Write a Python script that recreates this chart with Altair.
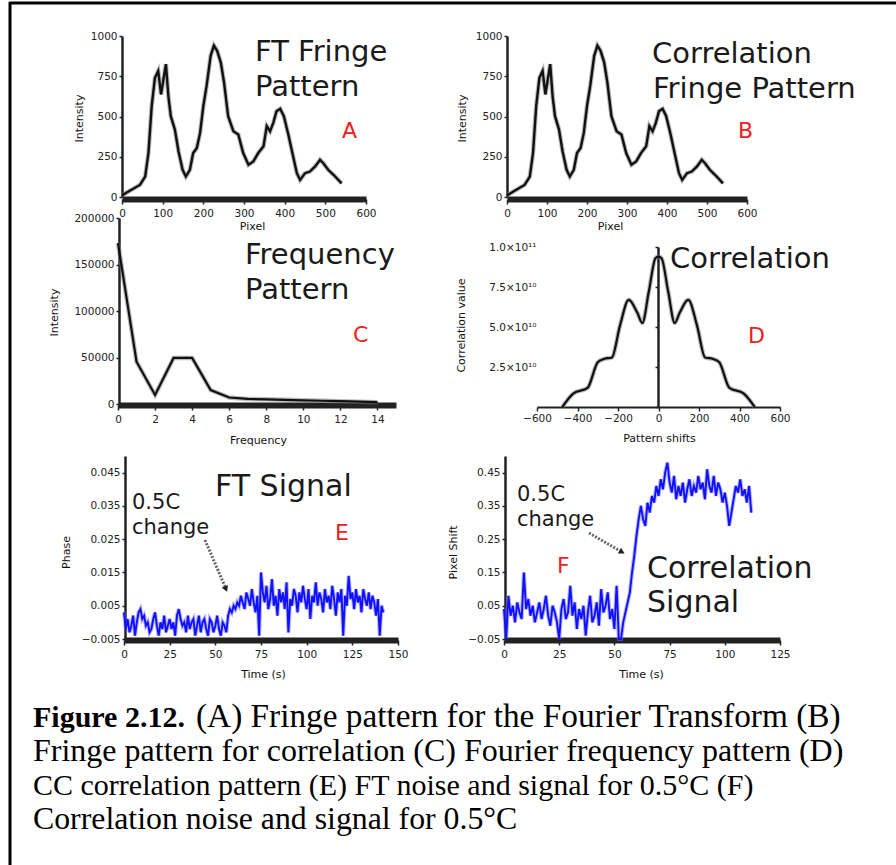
import altair as alt
import pandas as pd

W, H = 896, 865
FONT = "DejaVu Sans"
SERIF = "Liberation Serif"

# ---------------- data ----------------
# (A) FT fringe pattern
A_pixel = [0, 20, 44, 57, 65, 73, 81, 89, 96, 102, 108, 114, 120, 130, 139, 149, 157, 167, 175, 184,
           192, 200, 208, 218, 226, 234, 243, 251, 261, 274, 286, 298, 311, 323, 335, 348, 356, 364, 372, 380,
           389, 398, 409, 419, 430, 438, 450, 462, 475, 487, 495, 507, 520, 540]
A_intensity = [10, 40, 75, 127, 273, 565, 740, 783, 637, 731, 825, 627, 502, 419, 283, 169, 127, 169, 273, 304,
               398, 565, 690, 877, 940, 908, 835, 710, 502, 408, 388, 273, 200, 221, 273, 315, 440, 408, 460, 533,
               548, 502, 388, 273, 148, 106, 148, 158, 190, 231, 210, 169, 138, 85]
# (B) correlation fringe pattern (same fringe image)
B_pixel = list(A_pixel)
B_intensity = list(A_intensity)

# (C) Fourier frequency pattern
C_frequency = [0, 1, 2, 3, 4, 5, 6, 7, 8, 9, 10, 11, 12, 13, 14]
C_intensity = [173000, 45500, 9700, 49500, 49500, 15000, 7000, 5500, 5000, 4500, 4000, 3500, 3000, 2500, 2000]

# (D) cross-correlation pattern
D_shift = [-475, -420, -350, -300, -270, -230, -190, -147, -105, -80, -48, -15, 0,
           15, 48, 80, 105, 147, 190, 230, 270, 300, 350, 420, 475]
D_value = [0.0, 0.85e10, 1.2e10, 2.8e10, 3.0e10, 3.1e10, 5.1e10, 6.7e10, 5.9e10, 5.25e10, 7.2e10, 9.3e10, 9.4e10,
           9.3e10, 7.2e10, 5.25e10, 5.9e10, 6.7e10, 5.1e10, 3.1e10, 3.0e10, 2.8e10, 1.2e10, 0.85e10, 0.0]

# (E) FT phase signal, one reading per second, in units of 0.001
E_phase_milli = [3, -2, 1, -3, -1, 2, -4, 0, 3, 4, 1, 2, -1, 0, -3, -2, 1, 3, -1, -4,
                 0, -2, 2, -3, -1, 1, -2, 0, -4, 2, 4, 1, -1, 0, -3, 2, -2, 0, 1, -4,
                 -1, 2, -3, 0, 1, -2, -4, 1, 0, -3, -1, 2, -2, -4, 0, -1, -3,
                 2, 4, 3, 5, 4, 6,
                 5, 8, 6, 4, 9, 7, 5, 10, 6, 3, 8, -4, 15, 9, 6, 11, 4, 7, 13, 5,
                 8, 2, 10, 6, 9, 4, 12, -3, 7, 5, 10, 8, 3, 9, 6, 11, 7, 4, 10, 1,
                 8, 6, 12, 5, 9, 7, 3, 10, 6, 8, 4, 11, 7, 2, 9, 6, 10, -4, 8, 5,
                 14, 7, 9, 4, 10, 6, 8, 3, 10, 7, 5, 9, 4, 8, 6, 2, 7, -4, 5, 3]
E_phase = [v / 1000 for v in E_phase_milli]
E_time = list(range(len(E_phase)))

# (F) correlation pixel shift, one reading per second, in units of 0.01 px
F_shift_centi = [4, -5, 8, 2, 5, 0, 6, 3, 1, 15, 4, 7, 2, 5, 0, 3, 6, 1, 4, 8,
                 2, -1, 5, 3, 0, -5, 4, 7, 1, 3, 11, 2, 6, -2, 4, 1, 5, -4, 3, 8,
                 0, 2, 6, -1, 10, 3, 5, 9, 1, 4, -2, 11, -5,
                 -5, 0, 3, 6, 9, 15, 20, 26, 31, 35, 31, 29, 36, 33, 38, 36,
                 41, 38, 43, 40, 45, 48, 42, 39, 44, 37, 41, 38, 42, 36, 40, 43, 38, 41, 39, 44,
                 40, 42, 37, 46, 41, 39, 44, 38, 42, 40, 36, 39, 35, 29, 33, 37, 41, 39, 43, 38,
                 40, 36, 41, 33]
F_shift = [v / 100 for v in F_shift_centi]
F_time = list(range(len(F_shift)))

# tick values
A_xticks = [0, 100, 200, 300, 400, 500, 600]
A_yticks = [0, 250, 500, 750, 1000]
C_xticks = [0, 2, 4, 6, 8, 10, 12, 14]
C_yticks = [0, 50000, 100000, 150000, 200000]
D_xticks = [-600, -400, -200, 0, 200, 400, 600]
D_yticks = [0, 2.5e10, 5.0e10, 7.5e10, 1.0e11]
E_xticks = [0, 25, 50, 75, 100, 125, 150]
E_yticks = [-0.005, 0.005, 0.015, 0.025, 0.035, 0.045]
F_xticks = [0, 25, 50, 75, 100, 125]
F_yticks = [-0.05, 0.05, 0.15, 0.25, 0.35, 0.45]


# ---------------- helpers ----------------
def x_axis(ypos, ticks, title, tx, ty, fmt, bar=True):
    return alt.Axis(orient="bottom", offset=ypos - H, values=ticks, title=title, format=fmt,
                    titleX=tx, titleY=ty - ypos, titleAlign="center", titleBaseline="middle", titleAngle=0,
                    domainWidth=6 if bar else 2, tickSize=5 if bar else 4, labelPadding=4 if bar else 2)


def y_axis(xpos, ticks, title, tx, ty, fmt=None, label_pad=2, label_expr=None):
    kw = dict(orient="left", offset=-xpos, values=ticks, title=title,
              titleX=tx - xpos, titleY=ty, titleAlign="center", titleBaseline="middle", titleAngle=270,
              domainWidth=2.5, tickSize=3, labelPadding=label_pad)
    if fmt:
        kw["format"] = fmt
    if label_expr:
        kw["labelExpr"] = label_expr
    return alt.Axis(**kw)


def panel(xs, ys, xdom, xrng, ydom, yrng, xax, yax, fg, halo, fg_w, halo_w, interp="linear"):
    df = pd.DataFrame({"x": xs, "y": ys})
    base = alt.Chart(df).encode(
        x=alt.X("x:Q", scale=alt.Scale(domain=xdom, range=xrng, nice=False, zero=False), axis=xax),
        y=alt.Y("y:Q", scale=alt.Scale(domain=ydom, range=yrng, nice=False, zero=False), axis=yax),
    )
    return alt.layer(
        base.mark_line(color=halo, strokeWidth=halo_w, opacity=0.5, interpolate=interp),
        base.mark_line(color=fg, strokeWidth=fg_w, interpolate=interp),
    )


one = pd.DataFrame({"k": [0]})


def label(txt, x, y, size, color="#1a1a1a", font=FONT, weight="normal", align="left"):
    return alt.Chart(one).mark_text(text=txt, font=font, fontSize=size, fontWeight=weight, color=color,
                                    align=align, baseline="alphabetic").encode(x=alt.value(x), y=alt.value(y))


def arrow(x1, y1, x2, y2, ang):
    line = alt.Chart(one).mark_rule(color="#666", strokeWidth=3, strokeDash=[2, 1.5]).encode(
        x=alt.value(x1), y=alt.value(y1), x2=alt.value(x2), y2=alt.value(y2))
    head = alt.Chart(one).mark_point(shape="triangle-up", filled=True, size=45, angle=ang, color="#222",
                                     opacity=1).encode(x=alt.value(x2), y=alt.value(y2))
    return [line, head]


RED = "#ee2020"
BLK = "#111111"
BLUE = "#1010ff"
TS = 29

layers = [
    panel(A_pixel, A_intensity, [0, 600], [122, 366], [0, 1000], [197, 36],
          x_axis(199, A_xticks, "Pixel", 252, 226, "d"),
          y_axis(122, A_yticks, "Intensity", 79, 118, "d"),
          BLK, "#777", 2.4, 4.5),
    panel(B_pixel, B_intensity, [0, 600], [507, 747], [0, 1000], [197, 36],
          x_axis(199, A_xticks, "Pixel", 610, 226, "d"),
          y_axis(507, A_yticks, "Intensity", 462, 118, "d"),
          BLK, "#777", 2.4, 4.5),
    panel(C_frequency, C_intensity, [0, 15], [118, 396], [0, 200000], [404, 218],
          x_axis(405, C_xticks, "Frequency", 258, 440, "d"),
          y_axis(119, C_yticks, "Intensity", 54, 312, "d"),
          BLK, "#777", 2.2, 4.5),
    panel(D_shift, D_value, [-600, 600], [537, 780], [0, 1.0e11], [407, 247],
          x_axis(407, D_xticks, "Pattern shifts", 659, 438, "d", bar=False),
          y_axis(658, D_yticks, "Correlation value", 461, 325, label_pad=119,
                 label_expr="datum.value >= 9.9e10 ? '1.0×10¹¹' : datum.value >= 7.4e10 ? '7.5×10¹⁰' : "
                            "datum.value >= 4.9e10 ? '5.0×10¹⁰' : datum.value >= 2.4e10 ? '2.5×10¹⁰' : ''"),
          BLK, "#777", 2.2, 4.5, interp="monotone"),
    panel(E_time, E_phase, [0, 150], [124, 398], [-0.005, 0.05], [639, 456],
          x_axis(640, E_xticks, "Time (s)", 263, 674, "d"),
          y_axis(125, E_yticks, "Phase", 66, 552, ".3f"),
          BLUE, "#6a6aff", 1.9, 4.0),
    panel(F_time, F_shift, [0, 125], [504, 780], [-0.05, 0.5], [639, 456],
          x_axis(640, F_xticks, "Time (s)", 641, 674, "d"),
          y_axis(505, F_yticks, "Pixel Shift", 453, 552, ".2f"),
          BLUE, "#6a6aff", 1.9, 4.0),
]

texts = [
    label("FT Fringe", 255, 61, TS), label("Pattern", 255, 96, TS), label("A", 342, 138, 22, RED),
    label("Correlation", 652, 63, TS), label("Fringe Pattern", 653, 98, TS), label("B", 738, 138, 22, RED),
    label("Frequency", 245, 264, TS), label("Pattern", 245, 299, TS), label("C", 353, 342, 22, RED),
    label("Correlation", 670, 268, TS), label("D", 748, 343, 22, RED),
    label("FT Signal", 215, 496, 30), label("0.5C", 132, 509, 21), label("change", 132, 534, 21),
    label("E", 335, 540, 22, RED),
    label("Correlation", 647, 578, 30), label("Signal", 647, 612, 30),
    label("0.5C", 517, 501, 21), label("change", 517, 526, 21), label("F", 557, 573, 22, RED),
    # caption
    label("Figure 2.12.", 33, 727, 30, "#000", SERIF, "bold"),
    label("(A) Fringe pattern for the Fourier Transform (B)", 196, 727, 33.3, "#000", SERIF),
    label("Fringe pattern for correlation (C) Fourier frequency pattern (D)", 33, 761, 32, "#000", SERIF),
    label("CC correlation pattern (E) FT noise and signal for 0.5°C (F)", 33, 795, 30, "#000", SERIF),
    label("Correlation noise and signal for 0.5°C", 33, 829, 31.8, "#000", SERIF),
]

arrows = arrow(205, 540, 226, 589, 157) + arrow(589, 533, 622, 552, 119)

frame = [
    alt.Chart(one).mark_rule(color="#000", strokeWidth=3).encode(
        x=alt.value(9), x2=alt.value(W), y=alt.value(3)),
    alt.Chart(one).mark_rule(color="#000", strokeWidth=3).encode(
        x=alt.value(10), y=alt.value(2), y2=alt.value(H)),
]

chart = alt.layer(*layers, *texts, *arrows, *frame).resolve_scale(
    x="independent", y="independent"
).resolve_axis(
    x="independent", y="independent"
).properties(
    width=W, height=H, autosize=alt.AutoSizeParams(type="none"), padding=0, background="white"
).configure_view(
    stroke=None
).configure_axis(
    grid=False, labelFont=FONT, titleFont=FONT, labelFontSize=10.5, titleFontSize=11,
    labelColor="#222", titleColor="#111", titleFontWeight="normal", tickColor="#222",
    domainColor="#222", tickWidth=1.5, labelFlush=False, labelOverlap=False, labelBound=False
)

chart.save("out.html", embed_options={"renderer": "svg", "actions": False})
